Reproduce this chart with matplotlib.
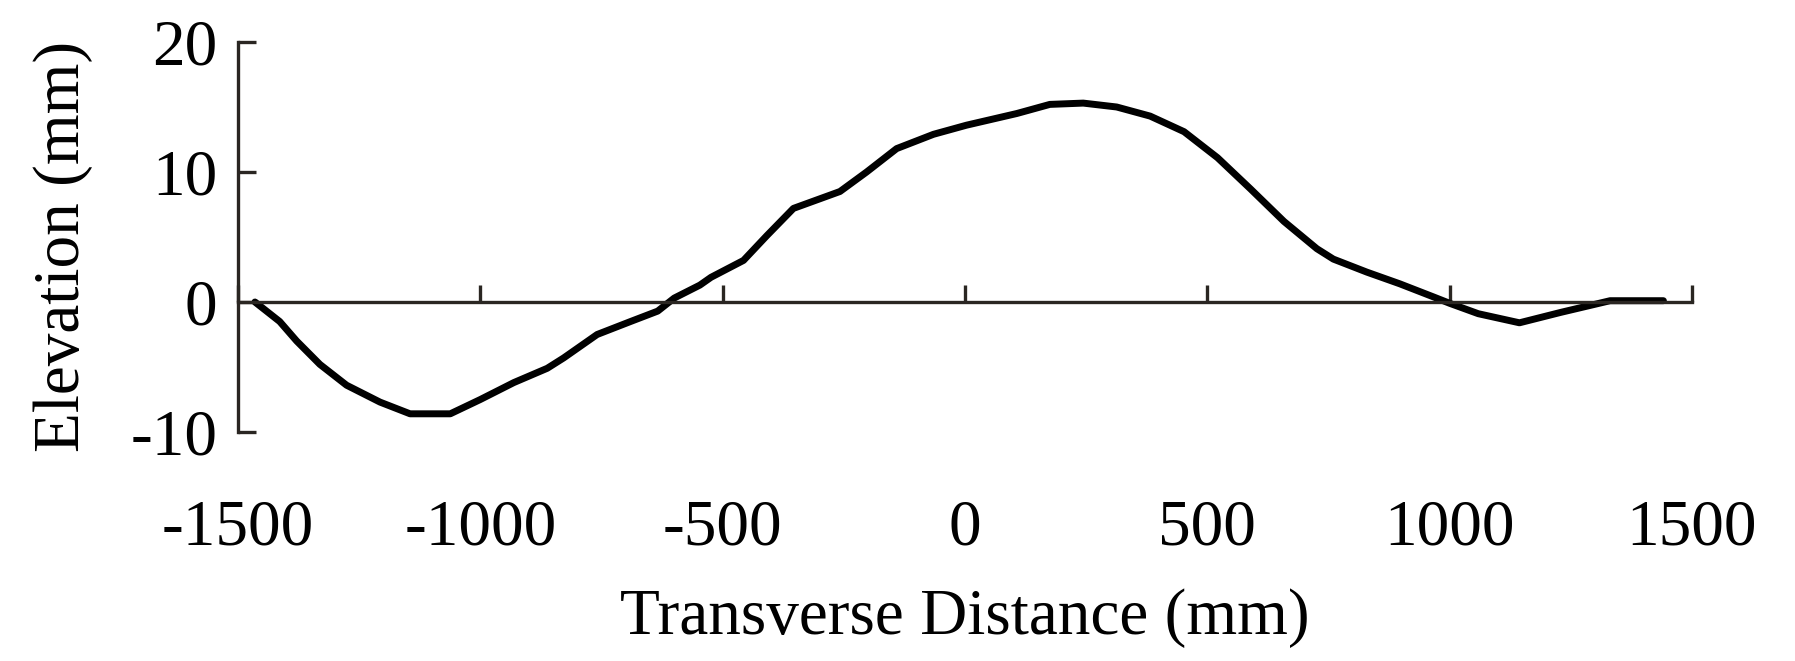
import matplotlib
matplotlib.use("Agg")
import matplotlib.pyplot as plt

# Data
distance_mm = [-1465, -1414, -1379, -1331, -1276, -1207, -1145, -1062, -1000, -931,
               -862, -828, -759, -690, -634, -600, -547, -524, -457, -409,
               -354, -258, -203, -141, -65, 3, 107, 175, 244, 313,
               382, 452, 521, 589, 658, 726, 760, 829, 897, 966,
               1000, 1059, 1144, 1229, 1331, 1441]
elevation_mm = [0.0, -1.5, -3.0, -4.8, -6.4, -7.7, -8.6, -8.6, -7.5, -6.2,
                -5.1, -4.3, -2.5, -1.5, -0.7, 0.3, 1.3, 1.9, 3.2, 5.1,
                7.2, 8.5, 10.0, 11.8, 12.9, 13.6, 14.5, 15.2, 15.3, 15.0,
                14.3, 13.1, 11.1, 8.7, 6.2, 4.1, 3.3, 2.3, 1.4, 0.4,
                -0.1, -0.9, -1.6, -0.8, 0.1, 0.1]
x_ticks = [-1500, -1000, -500, 0, 500, 1000, 1500]
y_ticks = [-10, 0, 10, 20]
x_label = "Transverse Distance (mm)"
y_label = "Elevation (mm)"

plt.rcParams['font.family'] = ['Liberation Serif', 'DejaVu Serif']
axis_color = '#2a2622'

fig = plt.figure(figsize=(17.95, 6.61), dpi=100)
ax = fig.add_axes([238/1795, 1-432/661, (1692-238)/1795, (432-42)/661])

ax.plot(distance_mm, elevation_mm, color='black', lw=5.0, solid_capstyle='round',
        solid_joinstyle='round')

ax.set_xlim(-1500, 1500)
ax.set_ylim(-10, 20)
ax.set_xticks(x_ticks)
ax.set_yticks(y_ticks)
ax.set_xticklabels([str(v) for v in x_ticks])
ax.set_yticklabels([str(v) for v in y_ticks])

for s in ['top', 'right']:
    ax.spines[s].set_visible(False)
ax.spines['bottom'].set_position(('data', 0))
for s in ['bottom', 'left']:
    ax.spines[s].set_color(axis_color)
    ax.spines[s].set_linewidth(2.4)

ax.tick_params(axis='x', direction='in', length=12, width=2.4, color=axis_color,
               pad=142, labelsize=47, labelcolor='black')
ax.tick_params(axis='y', direction='in', length=13, width=2.4, color=axis_color,
               pad=15, labelsize=47, labelcolor='black')

ax.set_xlabel(x_label, fontsize=47)
ax.xaxis.set_label_coords(0.5, -0.40)
ax.set_ylabel(y_label, fontsize=47)
ax.yaxis.label.set_va('center')
ax.yaxis.set_label_coords(-0.12, 0.477)

fig.savefig("out.png", dpi=100)
